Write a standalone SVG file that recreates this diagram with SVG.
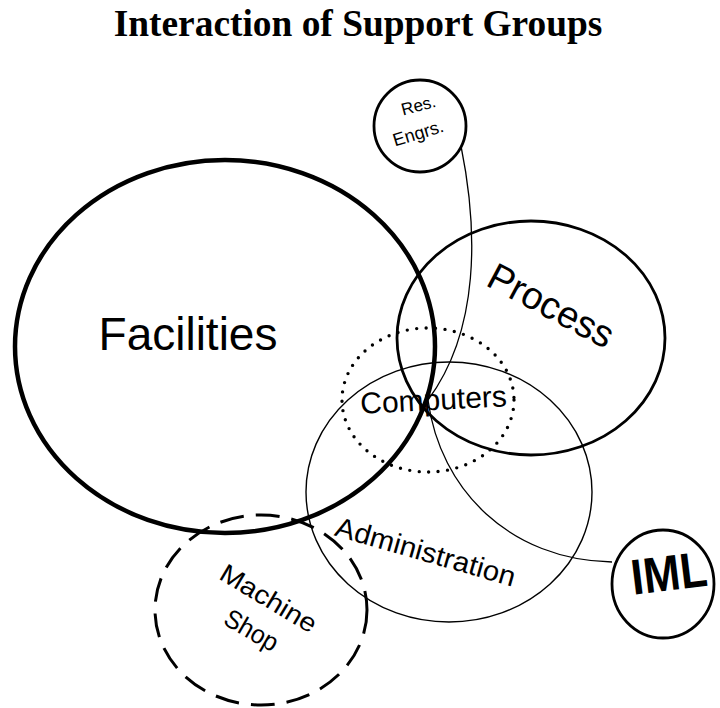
<svg xmlns="http://www.w3.org/2000/svg" width="720" height="708" viewBox="0 0 720 708">
<style>
.bg{fill:#fff}
.ring{fill:none;stroke:#000}
.thick{stroke-width:4.5}
.med{stroke-width:2.8}
.thin{stroke-width:1.4}
.dotted{stroke-width:3.4;stroke-dasharray:0 9.5;stroke-linecap:round}
.dashed{stroke-width:3;stroke-dasharray:24 12}
.conn{fill:none;stroke:#000;stroke-width:1.3}
.lbl{font-family:"Liberation Sans","DejaVu Sans",sans-serif;fill:#000;text-anchor:middle}
.title{font-family:"Liberation Serif","Times New Roman",serif;font-weight:bold;font-size:37.4px;fill:#000;text-anchor:middle}
</style>
<rect class="bg" x="0" y="0" width="720" height="708"/>
<text id="title" class="title" x="358" y="36">Interaction of Support Groups</text>

<g id="connectors">
  <path class="conn" d="M461,146 C478,230 480,330 428,400"/>
  <path class="conn" d="M428,400 C440,490 510,560 612,562"/>
</g>

<g id="facilities">
  <ellipse class="ring thick" cx="225" cy="346.5" rx="210" ry="186.5"/>
  <text class="lbl" x="188" y="350" font-size="46">Facilities</text>
</g>

<g id="process">
  <ellipse class="ring med" cx="531" cy="338" rx="134" ry="117"/>
  <text class="lbl" font-size="38" transform="translate(545,317) rotate(28)">Process</text>
</g>

<g id="computers">
  <ellipse class="ring dotted" cx="428" cy="400" rx="86" ry="72"/>
  <text class="lbl" font-size="30" transform="translate(434,410) rotate(-3)">Computers</text>
</g>

<g id="administration">
  <ellipse class="ring thin" cx="449" cy="492" rx="143" ry="130"/>
  <text class="lbl" font-size="28" textLength="186" lengthAdjust="spacingAndGlyphs" transform="translate(423,561) rotate(16)">Administration</text>
</g>

<g id="machine-shop">
  <ellipse class="ring dashed" cx="261" cy="610" rx="106" ry="95"/>
  <text class="lbl" font-size="26" textLength="108" lengthAdjust="spacingAndGlyphs" transform="translate(264,606) rotate(31)">Machine</text>
  <text class="lbl" font-size="26" textLength="58" lengthAdjust="spacingAndGlyphs" transform="translate(247,638) rotate(30)">Shop</text>
</g>

<g id="res-engrs">
  <circle class="ring med" cx="420" cy="126" r="46"/>
  <text class="lbl" font-size="17" transform="translate(420,111) rotate(-15)">Res.</text>
  <text class="lbl" font-size="18" transform="translate(420,139) rotate(-17)">Engrs.</text>
</g>

<g id="iml">
  <ellipse class="ring med" cx="663" cy="584" rx="51" ry="54"/>
  <text class="lbl" font-size="50" font-weight="bold" textLength="76" lengthAdjust="spacingAndGlyphs" transform="translate(671,590) rotate(-7)">IML</text>
</g>
</svg>
